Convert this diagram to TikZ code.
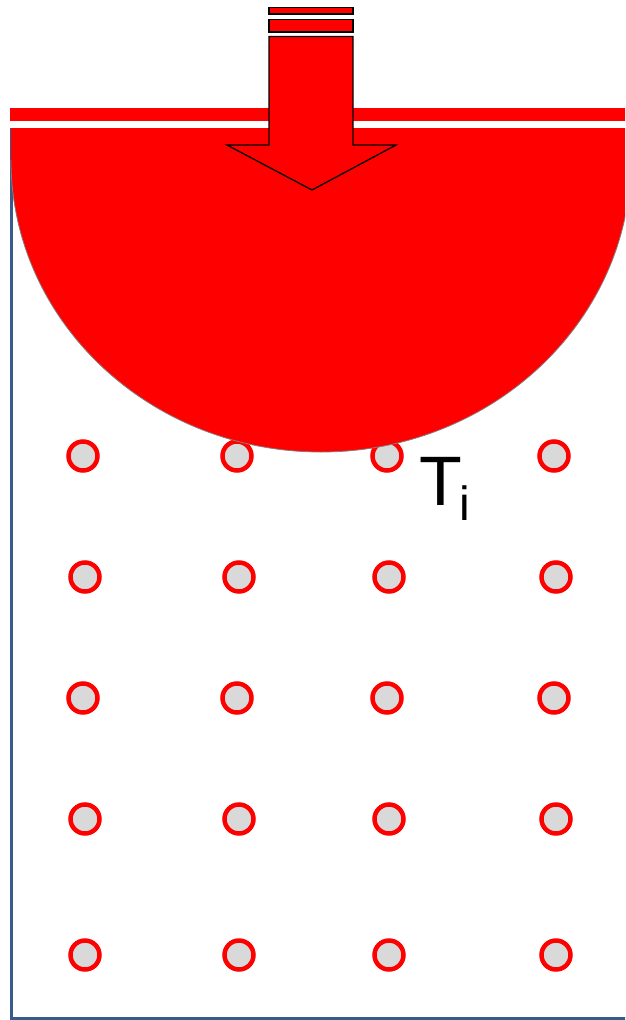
\documentclass[tikz,border=0pt]{standalone}
\usepackage{fontspec}
\setmainfont{Liberation Sans}
\definecolor{frameblue}{HTML}{3B5A8C}
\definecolor{heatred}{HTML}{FF0000}
\definecolor{dotgray}{HTML}{D9D9D9}
\begin{document}
\begin{tikzpicture}[x=1pt,y=-1pt,
  particle/.style={circle,draw=heatred,line width=4.5pt,fill=dotgray,minimum size=29pt,inner sep=0pt},
  arrowpart/.style={fill=heatred,draw=black,line width=1.3pt,line join=miter}]
\useasboundingbox (0,0) rectangle (625,1020);
\clip (0,0) rectangle (625,1020);
% frame
\draw[frameblue,line width=3pt] (11,128) coordinate (ftop) -- (11,1018) coordinate (fcorner) -- (626,1018) coordinate (fend);
% particles
\foreach \r/\y/\dx in {1/456/0,2/577/2,3/698/0,4/819/2,5/955/2}{
  \foreach \c/\x in {1/83,2/237,3/387,4/554}{
    \node[particle] (p\r\c) at (\x+\dx,\y) {};
  }
}
% red heat zone
\fill[heatred] (10,108) rectangle (640,121);
\fill[heatred] (11,128) -- (11,160) arc[start angle=180,end angle=0,x radius=310,y radius=292] -- (631,128) -- cycle;
\draw[gray,line width=0.8pt] (11,160) arc[start angle=180,end angle=0,x radius=310,y radius=292];
% arrow
\draw[arrowpart] (269,7.5) rectangle (353,14);
\draw[arrowpart] (269,19.5) rectangle (353,32);
\draw[arrowpart] (269,36.5) -- (353,36.5) -- (353,145) -- (396,145) -- (312,190) -- (227,145) -- (269,145) -- cycle;
% label
\node[anchor=base west,inner sep=0pt] (ti) at (419,505) {\fontsize{70}{70}\selectfont T\kern-2pt\raisebox{-15pt}{\fontsize{48}{48}\selectfont i}};
\end{tikzpicture}
\end{document}
